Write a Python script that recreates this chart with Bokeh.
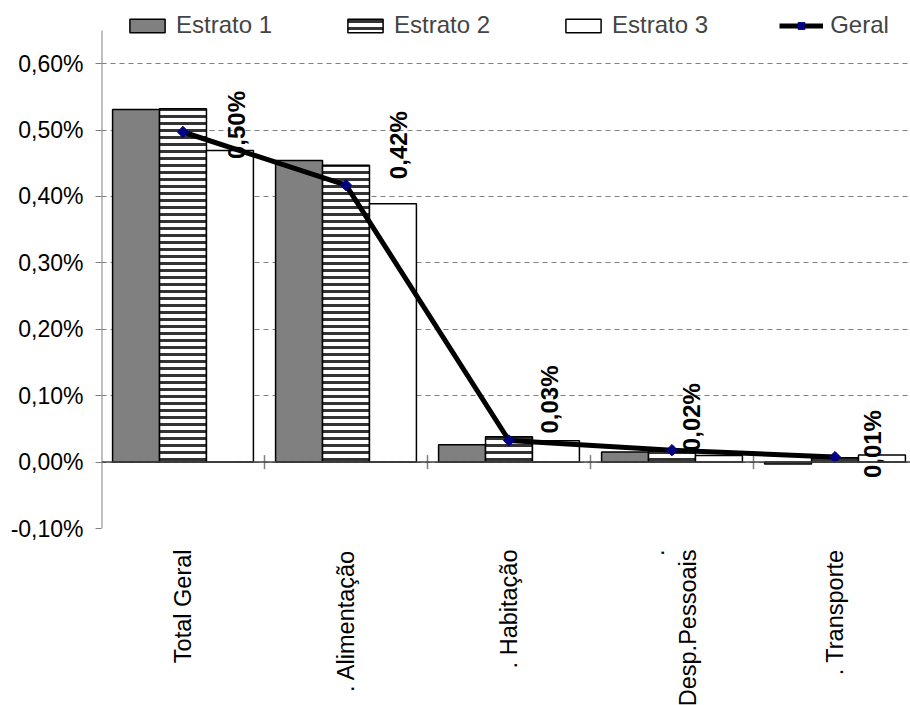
import numpy as np
from bokeh.plotting import figure
from bokeh.models import (ColumnDataSource, Range1d, FixedTicker, CustomJSTickFormatter,
                          Span, Legend, LegendItem)
from bokeh.core.properties import value
from bokeh.embed import file_html
from bokeh.resources import INLINE

# ---- data ----
categories = ["Total Geral", ". Alimentação", ". Habitação", ".\nDesp.Pessoais", ". Transporte"]
estrato1 = [0.531, 0.454, 0.026, 0.015, -0.003]
estrato2 = [0.532, 0.447, 0.038, 0.017, 0.0065]
estrato3 = [0.469, 0.389, 0.032, 0.010, 0.0105]
geral = [0.497, 0.417, 0.0325, 0.018, 0.0075]
y_ticks = [-0.1, 0.0, 0.1, 0.2, 0.3, 0.4, 0.5, 0.6]
y_axis_top = 0.65
series_names = ["Estrato 1", "Estrato 2", "Estrato 3", "Geral"]

# ---- styling ----
FONT = "Liberation Sans"
label_dx = [53, 52, 40, 19, 37]   # pixel nudges of the data labels
label_dy = [27, -6, -7, 1, 21]

n = len(categories)
centers = np.arange(n) + 0.5
bar_w = 0.288

# frame reaches the top of the page so the legend (inside the frame) is not clipped
p = figure(output_backend="svg", toolbar_location=None,
           frame_width=809, frame_height=528,
           x_range=Range1d(0, 809 / 163), y_range=Range1d(y_ticks[0], 0.695),
           min_border_left=101, min_border_right=0, min_border_top=0, min_border_bottom=0,
           background_fill_color="white", border_fill_color="white")
p.outline_line_color = None

zero = Span(location=0, dimension="width", line_color="#404040", line_width=1.5)
p.add_layout(zero)

# left axis line (from the lowest tick up to the axis top)
p.segment(x0=[0], y0=[y_ticks[0]], x1=[0], y1=[y_axis_top], line_color="#808080", line_width=2)

r1 = p.vbar(x=centers - bar_w, top=estrato1, bottom=0, width=bar_w,
            fill_color="#808080", line_color="black", line_width=1.5)
r2 = p.vbar(x=centers, top=estrato2, bottom=0, width=bar_w,
            fill_color="white", line_color="black", line_width=1.5,
            hatch_pattern="-", hatch_color="#333333", hatch_scale=7, hatch_weight=3)
r3 = p.vbar(x=centers + bar_w, top=estrato3, bottom=0, width=bar_w,
            fill_color="white", line_color="black", line_width=1.5)

# category boundary ticks on the zero line
p.scatter(x=np.arange(1, n), y=np.zeros(n - 1), marker="dash", angle=np.pi / 2,
          size=14, line_color="#808080", line_width=1.5)

rl = p.line(centers, geral, line_color="black", line_width=5)
rm = p.scatter(centers, geral, marker="square", angle=np.pi / 4, size=8,
               fill_color="#000080", line_color="#000080")

lab_src = ColumnDataSource(dict(
    x=centers, y=geral,
    text=[f"{v:.2f}".replace(".", ",") + "%" for v in geral],
    dx=label_dx, dy=label_dy))
p.text(x="x", y="y", text="text", source=lab_src, angle=np.pi / 2,
       x_offset="dx", y_offset="dy", text_font=value(FONT), text_font_style="bold",
       text_font_size="24px", text_align="left", text_baseline="middle", text_color="black")

# axes
p.yaxis.ticker = FixedTicker(ticks=y_ticks)
p.yaxis.formatter = CustomJSTickFormatter(code="return tick.toFixed(2).replace('.', ',') + '%';")
p.yaxis.axis_line_color = None
p.yaxis.major_tick_line_color = "#808080"
p.yaxis.major_tick_out = 6
p.yaxis.major_tick_in = 0
p.yaxis.minor_tick_line_color = None
p.yaxis.major_label_standoff = 12
p.yaxis.major_label_text_font = FONT
p.yaxis.major_label_text_font_size = "23px"
p.yaxis.major_label_text_color = "black"

p.xaxis.ticker = FixedTicker(ticks=list(centers))
p.xaxis.major_label_overrides = {float(c): lab for c, lab in zip(centers, categories)}
p.xaxis.major_label_orientation = np.pi / 2
p.xaxis.axis_line_color = None
p.xaxis.major_tick_line_color = None
p.xaxis.minor_tick_line_color = None
p.xaxis.major_label_standoff = 15
p.xaxis.major_label_text_font = FONT
p.xaxis.major_label_text_font_size = "23.5px"
p.xaxis.major_label_text_color = "black"

p.xgrid.visible = False
p.ygrid.grid_line_color = "#808080"
p.ygrid.grid_line_dash = "5 4"
p.ygrid.grid_line_width = 1

legend = Legend(items=[LegendItem(label=series_names[0], renderers=[r1]),
                       LegendItem(label=series_names[1], renderers=[r2]),
                       LegendItem(label=series_names[2], renderers=[r3]),
                       LegendItem(label=series_names[3], renderers=[rl, rm])],
                orientation="horizontal", location=(24, 489),
                glyph_width=44, glyph_height=17, label_standoff=7, spacing=71,
                padding=0, margin=0, border_line_color=None, background_fill_alpha=0,
                label_text_font=FONT, label_text_font_size="24px",
                label_text_baseline="middle")
p.add_layout(legend)

open("out.html", "w").write(file_html(p, INLINE))
